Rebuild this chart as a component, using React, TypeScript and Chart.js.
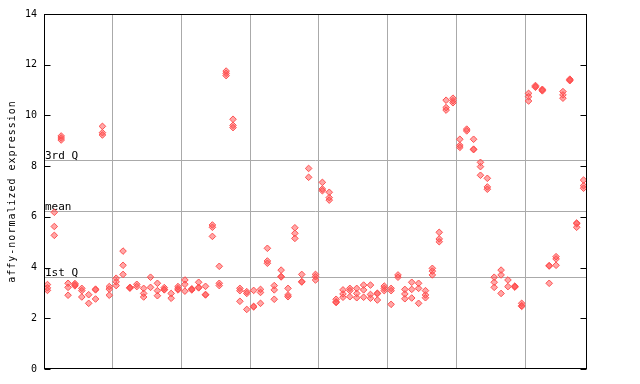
import React, { useEffect, useRef } from "react";
import { Chart, registerables } from "chart.js";

Chart.register(...registerables);

// Expression values per sample column (three replicate points per column, null = no point)
const rep1: (number | null)[] = [
  3.33, 6.18, 9.19, 3.38, 3.37, 3.18, 2.93, 3.15, 9.57, 3.25,
  3.58, 4.65, 3.22, 3.34, 3.18, 3.62, 3.38, 3.21, 2.98, 3.25,
  3.51, 3.16, 3.42, 3.26, 5.68, 4.05, 11.75, 9.85, 3.18, 3.05,
  3.1, 3.14, 4.76, 3.29, 3.9, 3.18, 5.57, 3.73, 7.91, 3.73,
  7.36, 6.97, 2.75, 3.12, 3.18, 3.18, 3.31, 3.31, 2.99, 3.27,
  3.18, 3.71, 3.14, 3.42, 3.38, 3.09, 3.97, 5.39, 10.6, 10.68,
  9.06, 9.46, 9.06, 8.15, 7.52, 3.62, 3.9, 3.51, 3.27, 2.59,
  10.87, 11.18, 11.03, 4.08, 4.43, 10.94, 11.43, 5.76, 7.45,
];
const rep2: (number | null)[] = [
  3.2, 5.62, 9.11, 3.22, 3.32, 3.09, 2.59, 3.12, 9.32, 3.15,
  3.44, 4.09, 3.2, 3.25, 2.98, 3.22, 3.09, 3.14, 2.79, 3.17,
  3.34, 3.14, 3.22, 2.94, 5.59, 3.38, 11.66, 9.61, 3.09, 2.98,
  2.47, 3.02, 4.26, 3.12, 3.65, 2.92, 5.35, 3.45, 7.56, 3.64,
  7.1, 6.76, 2.65, 2.96, 3.09, 2.98, 3.12, 2.94, 2.97, 3.18,
  3.09, 3.62, 2.96, 3.14, 3.18, 2.92, 3.86, 5.13, 10.31, 10.58,
  8.82, 9.39, 8.67, 7.98, 7.18, 3.42, 3.71, 3.25, 3.25, 2.5,
  10.74, 11.14, 11.0, 4.06, 4.34, 10.81, 11.4, 5.73, 7.23,
];
const rep3: (number | null)[] = [
  3.1, 5.27, 9.03, 2.91, 3.28, 2.84, null, 2.76, 9.23, 2.91,
  3.29, 3.73, 3.19, null, 2.84, null, 2.89, 3.12, null, 3.12,
  3.07, 3.12, 3.2, 2.92, 5.23, 3.29, 11.57, 9.52, 2.67, 2.35,
  2.45, 2.59, 4.17, 2.75, 3.63, 2.85, 5.15, 3.43, null, 3.51,
  7.03, 6.66, 2.62, 2.83, 2.85, 2.81, 2.83, 2.79, 2.72, 3.09,
  2.55, null, 2.77, 2.8, 2.59, 2.81, 3.71, 5.02, 10.21, 10.5,
  8.74, null, 8.65, 7.64, 7.09, 3.22, 2.98, null, 3.23, 2.47,
  10.57, 11.11, 10.97, 3.38, 4.09, 10.68, 11.37, 5.59, 7.13,
];

const yTicks: number[] = [0, 2, 4, 6, 8, 10, 12, 14];
const groupBoundaries: number[] = [9.5, 19.5, 29.5, 39.5, 49.5, 59.5, 69.5];
const quartileLabels: string[] = ["3rd Q", "mean", "1st Q"];
const quartileValues: number[] = [8.23, 6.22, 3.63];
const yTitle = "affy-normalized expression";

const RED = "#ff5050";

function toPoints(arr: (number | null)[]) {
  const pts: { x: number; y: number }[] = [];
  arr.forEach((v, i) => {
    if (v !== null) pts.push({ x: i, y: v });
  });
  return pts;
}

const framePlugin = {
  id: "framePlugin",
  beforeDatasetsDraw(chart: any) {
    const { ctx, chartArea, scales } = chart;
    const y = scales.y;
    ctx.save();
    ctx.strokeStyle = "#aaaaaa";
    ctx.lineWidth = 1;
    ctx.fillStyle = "#000";
    ctx.font = '11px "DejaVu Sans Mono"';
    ctx.textAlign = "left";
    ctx.textBaseline = "alphabetic";
    quartileValues.forEach((q, i) => {
      const py = Math.round(y.getPixelForValue(q)) + 0.5;
      ctx.beginPath();
      ctx.moveTo(chartArea.left, py);
      ctx.lineTo(chartArea.right, py);
      ctx.stroke();
      ctx.fillText(quartileLabels[i], chartArea.left + 1, py - 2);
    });
    ctx.restore();
  },
  afterDraw(chart: any) {
    const { ctx, chartArea, scales } = chart;
    const y = scales.y;
    ctx.save();
    ctx.strokeStyle = "#000";
    ctx.lineWidth = 1;
    const l = Math.round(chartArea.left) + 0.5;
    const r = Math.round(chartArea.right) - 0.5;
    const t = Math.round(chartArea.top) + 0.5;
    const b = Math.round(chartArea.bottom) - 0.5;
    ctx.strokeRect(l, t, r - l, b - t);
    yTicks.forEach((v) => {
      const py = Math.round(y.getPixelForValue(v)) + 0.5;
      ctx.beginPath();
      ctx.moveTo(l, py);
      ctx.lineTo(l + 6, py);
      ctx.moveTo(r, py);
      ctx.lineTo(r - 6, py);
      ctx.stroke();
    });
    ctx.fillStyle = "#000";
    ctx.font = '10px "DejaVu Sans Mono"';
    (ctx as any).letterSpacing = "1px";
    ctx.translate(12, (chartArea.top + chartArea.bottom) / 2);
    ctx.rotate(-Math.PI / 2);
    ctx.textAlign = "center";
    ctx.textBaseline = "middle";
    ctx.fillText(yTitle, 0, 0);
    ctx.restore();
  },
};

export default function App() {
  const ref = useRef<HTMLCanvasElement | null>(null);
  useEffect(() => {
    if (!ref.current) return;
    const style = {
      pointStyle: "rectRot" as const,
      pointRadius: 3.3,
      borderWidth: 1,
      borderColor: RED,
      backgroundColor: "rgba(255,80,80,0.5)",
      showLine: false,
    };
    const chart = new Chart(ref.current, {
      type: "scatter",
      data: {
        datasets: [
          { data: toPoints(rep1), ...style },
          { data: toPoints(rep2), ...style },
          { data: toPoints(rep3), ...style },
        ],
      },
      options: {
        animation: false,
        responsive: false,
        devicePixelRatio: 1,
        layout: { padding: { left: 0, right: 53, top: 14, bottom: 15 } },
        plugins: { legend: { display: false }, tooltip: { enabled: false } },
        scales: {
          x: {
            type: "linear",
            min: -0.5,
            max: 78.5,
            afterBuildTicks: (scale: any) => {
              scale.ticks = groupBoundaries.map((v) => ({ value: v }));
            },
            afterFit: (scale: any) => {
              scale.height = 0;
            },
            ticks: { display: false },
            border: { display: false },
            grid: { color: "#aaaaaa", drawTicks: false, lineWidth: 1 },
          },
          y: {
            type: "linear",
            min: 0,
            max: 14,
            afterBuildTicks: (scale: any) => {
              scale.ticks = yTicks.map((v) => ({ value: v }));
            },
            afterFit: (scale: any) => {
              scale.width = 44;
            },
            ticks: {
              padding: 7,
              color: "#000",
              font: { family: "DejaVu Sans Mono", size: 10 },
            },
            border: { display: false },
            grid: { display: false, drawTicks: false },
          },
        },
      },
      plugins: [framePlugin],
    });
    return () => chart.destroy();
  }, []);
  return (
    <div style={{ position: "absolute", left: 0, top: 0, width: 640, height: 384, background: "#fff" }}>
      <canvas ref={ref} width={640} height={384} />
    </div>
  );
}
